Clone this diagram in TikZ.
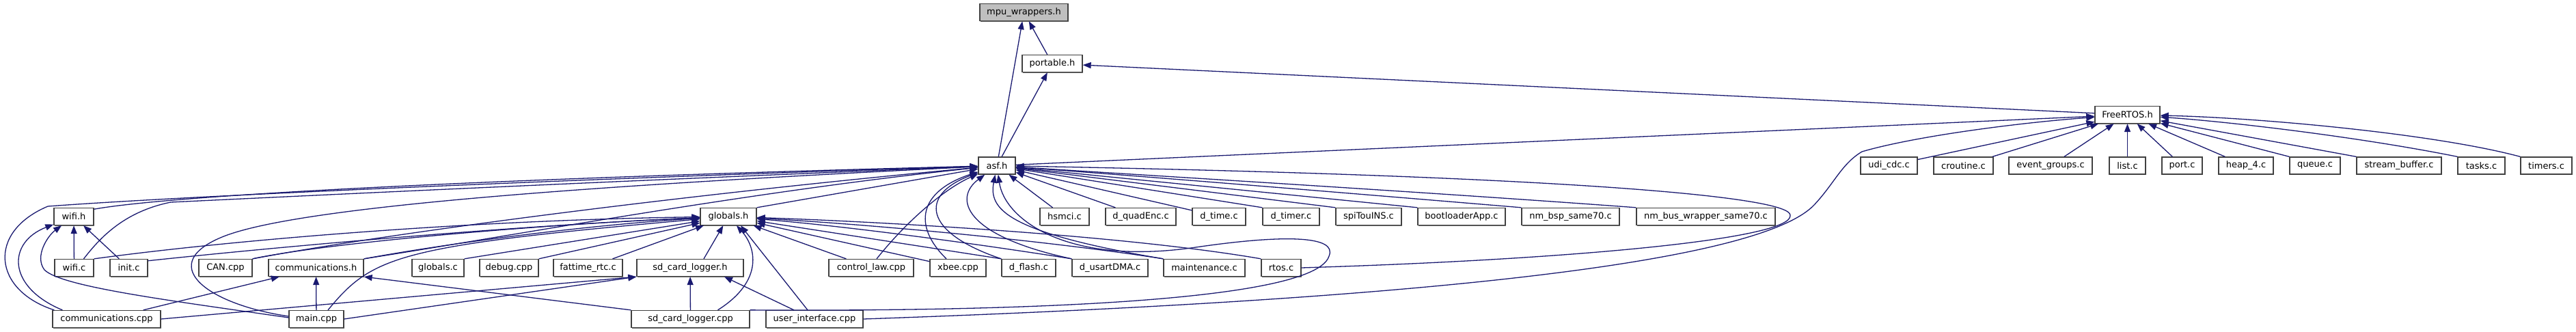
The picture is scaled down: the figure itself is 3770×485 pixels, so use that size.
\documentclass[tikz,border=0pt]{standalone}
\usepackage{fontspec}
\setmainfont{DejaVu Sans}
\usetikzlibrary{arrows.meta,shadows}
\definecolor{edgecol}{HTML}{191970}
\definecolor{rootfill}{HTML}{BFBFBF}
\definecolor{boxline}{HTML}{404040}
\tikzset{
  filebox/.style={draw=boxline, line width=1.3pt, fill=white, minimum height=25pt, inner sep=0pt, font=\fontsize{13}{15}\selectfont, text=black,
    drop shadow={shadow xshift=1.2pt, shadow yshift=-1.2pt, fill=black!60, opacity=1}},
  rootbox/.style={filebox, fill=rootfill},
  depline/.style={draw=edgecol, line width=1.3pt, -{Triangle[length=12pt,width=9pt]}},
}
\begin{document}
\begin{tikzpicture}[x=1pt,y=-1pt]
\fill[white] (0,0) rectangle (3770,485);
\useasboundingbox (0,0) rectangle (3770,485);

% ---------- nodes ----------
\node[rootbox,minimum width=129pt] (mpu) at (1498.5,18) {mpu\_wrappers.h};
\node[filebox,minimum width=88pt] (portable) at (1540,93) {portable.h};
\node[filebox,minimum width=95pt] (freertos) at (3113.5,168) {FreeRTOS.h};
% row 3
\node[filebox,minimum width=54pt] (asf) at (1459,242.5) {asf.h};
\node[filebox,minimum width=83pt] (udicdc) at (2764.5,242.5) {udi\_cdc.c};
\node[filebox,minimum width=87pt] (croutine) at (2873.5,242.5) {croutine.c};
\node[filebox,minimum width=122pt] (eventgroups) at (3001,242.5) {event\_groups.c};
\node[filebox,minimum width=53pt] (listc) at (3113.5,242.5) {list.c};
\node[filebox,minimum width=59pt] (portc) at (3193.5,242.5) {port.c};
\node[filebox,minimum width=80pt] (heap) at (3287,242.5) {heap\_4.c};
\node[filebox,minimum width=74pt] (queue) at (3388,242.5) {queue.c};
\node[filebox,minimum width=124pt] (streambuf) at (3511,242.5) {stream\_buffer.c};
\node[filebox,minimum width=69pt] (tasks) at (3631.5,242.5) {tasks.c};
\node[filebox,minimum width=75pt] (timers) at (3726.5,242.5) {timers.c};
% row 4
\node[filebox,minimum width=58pt] (wifih) at (108,317) {wifi.h};
\node[filebox,minimum width=82pt] (globals) at (1066,317) {globals.h};
\node[filebox,minimum width=72pt] (hsmci) at (1558,317) {hsmci.c};
\node[filebox,minimum width=103pt] (quadenc) at (1669.5,317) {d\_quadEnc.c};
\node[filebox,minimum width=78pt] (dtime) at (1784,317) {d\_time.c};
\node[filebox,minimum width=83pt] (dtimer) at (1889.5,317) {d\_timer.c};
\node[filebox,minimum width=96pt] (spi) at (2003,317) {spiTouINS.c};
\node[filebox,minimum width=128pt] (boot) at (2139,317) {bootloaderApp.c};
\node[filebox,minimum width=143pt] (nmbsp) at (2298.5,317) {nm\_bsp\_same70.c};
\node[filebox,minimum width=203pt] (nmbus) at (2496.5,317) {nm\_bus\_wrapper\_same70.c};
% row 5
\node[filebox,minimum width=57pt] (wific) at (108.5,392) {wifi.c};
\node[filebox,minimum width=55pt] (initc) at (188.5,392) {init.c};
\node[filebox,minimum width=78pt] (can) at (330,392) {CAN.cpp};
\node[filebox,minimum width=139pt] (commh) at (462.5,392) {communications.h};
\node[filebox,minimum width=76pt] (globalsc) at (641,392) {globals.c};
\node[filebox,minimum width=86pt] (debug) at (745,392) {debug.cpp};
\node[filebox,minimum width=101pt] (fattime) at (860.5,392) {fattime\_rtc.c};
\node[filebox,minimum width=156pt] (sdlh) at (1010,392) {sd\_card\_logger.h};
\node[filebox,minimum width=124pt] (ctrl) at (1275,392) {control\_law.cpp};
\node[filebox,minimum width=82pt] (xbee) at (1402,392) {xbee.cpp};
\node[filebox,minimum width=79pt] (dflash) at (1505.5,392) {d\_flash.c};
\node[filebox,minimum width=111pt] (dusart) at (1624.5,392) {d\_usartDMA.c};
\node[filebox,minimum width=119pt] (maint) at (1762.5,392) {maintenance.c};
\node[filebox,minimum width=58pt] (rtos) at (1875,392) {rtos.c};
% row 6
\node[filebox,minimum width=158pt] (commcpp) at (156,467) {communications.cpp};
\node[filebox,minimum width=80pt] (main) at (463,467) {main.cpp};
\node[filebox,minimum width=173pt] (sdcpp) at (1010.5,467) {sd\_card\_logger.cpp};
\node[filebox,minimum width=142pt] (ui) at (1192,467) {user\_interface.cpp};

% ---------- top ----------
\draw[depline] (portable) -- (mpu);
\draw[depline] (asf) -- (mpu);
\draw[depline] (asf) -- (portable);
\draw[depline] (freertos) -- (portable);
\draw[depline] (asf) -- (freertos);

% ---------- FreeRTOS.h ----------
\draw[depline] (udicdc) -- (freertos);
\draw[depline] (croutine) -- (freertos);
\draw[depline] (eventgroups) -- (freertos);
\draw[depline] (listc) -- (freertos);
\draw[depline] (portc) -- (freertos);
\draw[depline] (heap) -- (freertos);
\draw[depline] (queue.north west) -- (freertos);
\draw[depline] (streambuf.north west) -- (freertos);
\draw[depline] (tasks.north west) .. controls (3450,200) and (3260,178) .. (freertos);
\draw[depline] (timers.north west) .. controls (3560,195) and (3300,172) .. (freertos);
\draw[depline] (ui.east) .. controls (1900,445) and (2560,400) .. (2655,300)
  .. controls (2685,268) and (2695,240) .. (2725,222)
  .. controls (2800,200) and (2950,180) .. (freertos);

% ---------- asf.h, right side ----------
\draw[depline] (hsmci) -- (asf);
\draw[depline] (quadenc) -- (asf);
\draw[depline] (dtime) -- (asf);
\draw[depline] (dtimer.north west) -- (asf);
\draw[depline] (spi.north west) -- (asf);
\draw[depline] (boot.north west) -- (asf);
\draw[depline] (nmbsp.north west) .. controls (2000,285) and (1700,260) .. (asf);
\draw[depline] (nmbus.north west) .. controls (2100,282) and (1700,258) .. (asf);
\draw[depline] (rtos.east) .. controls (2300,380) and (2625,350) .. (2620,315)
  .. controls (2620,288) and (2300,258) .. (asf);

% ---------- asf.h, from below ----------
\draw[depline] ([xshift=8pt]ctrl.north) .. controls (1330,320) and (1385,275) .. (asf);
\draw[depline] ([xshift=-17pt]xbee.north) .. controls (1335,330) and (1345,280) .. (asf);
\draw[depline] (dflash.north west) .. controls (1350,340) and (1345,285) .. (asf);
\draw[depline] (dusart.north west) .. controls (1410,345) and (1395,290) .. (asf);
\draw[depline] (maint.north west) .. controls (1470,340) and (1447,305) .. (asf);
\draw[depline] (sdcpp.north east) .. controls (1300,455) and (1920,455) .. (1945,375)
  .. controls (1958,345) and (1880,343) .. (1750,362)
  .. controls (1560,390) and (1470,320) .. (asf);

% ---------- asf.h, from left ----------
\draw[depline] (globals.north east) -- (asf);
\draw[depline] (wifih.20) .. controls (250,286) and (700,262) .. (asf);
\draw[depline] ([xshift=14pt]wific.north) .. controls (145,350) and (180,310) .. (250,296)
  .. controls (500,284) and (900,265) .. (asf);
\draw[depline] ([xshift=3pt]commcpp.north west) .. controls (-10,425) and (-20,340) .. (70,302)
  .. controls (300,285) and (900,260) .. (asf);
\draw[depline] ([yshift=4pt]main.west) .. controls (300,445) and (225,385) .. (330,345)
  .. controls (450,300) and (900,270) .. (asf);
\draw[depline] (can.north east) .. controls (550,345) and (950,290) .. (asf);
\draw[depline] (commh.north east) .. controls (750,345) and (1100,280) .. (asf);

% ---------- globals.h ----------
\draw[depline] (wific.north east) .. controls (350,350) and (700,322) .. (globals);
\draw[depline] (initc.20) .. controls (420,360) and (760,330) .. (globals);
\draw[depline] (can.north east) .. controls (480,355) and (800,328) .. (globals);
\draw[depline] (commh.north east) .. controls (680,352) and (880,328) .. (globals);
\draw[depline] ([xshift=17pt]main.north) .. controls (545,375) and (580,360) .. (globals);
\draw[depline] (globalsc.north east) -- (globals);
\draw[depline] (debug.north east) -- (globals);
\draw[depline] (fattime) -- (globals);
\draw[depline] ([xshift=20pt]sdlh.north) -- (globals);
\draw[depline] ([xshift=40pt]sdcpp.north) .. controls (1120,410) and (1105,360) .. (globals);
\draw[depline] ([xshift=-10pt]ui.north) -- ([xshift=18pt]globals.south);
\draw[depline] (ctrl) -- (globals);
\draw[depline] (xbee) -- (globals);
\draw[depline] (dflash.north west) -- (globals);
\draw[depline] (dusart.north west) .. controls (1450,360) and (1250,332) .. (globals);
\draw[depline] (maint.north west) .. controls (1550,355) and (1300,330) .. (globals);
\draw[depline] (rtos.north west) .. controls (1650,345) and (1300,325) .. (globals);

% ---------- wifi.h ----------
\draw[depline] (wific) -- (wifih);
\draw[depline] (initc) -- (wifih);
\draw[depline] ([xshift=15pt]commcpp.north west) .. controls (10,420) and (10,355) .. (wifih);
\draw[depline] ([yshift=2pt]main.west) .. controls (250,440) and (90,420) .. (65,395)
  .. controls (50,375) and (70,345) .. (wifih);

% ---------- communications.h / sd_card_logger.h ----------
\draw[depline] (commcpp) -- (commh);
\draw[depline] (main) -- (commh);
\draw[depline] (sdcpp.north west) -- (commh.south east);
\draw[depline] (commcpp.east) -- (sdlh.south west);
\draw[depline] (main.east) -- (sdlh.south west);
\draw[depline] (sdcpp) -- (sdlh);
\draw[depline] ([xshift=-30pt]ui.north) -- ([xshift=50pt]sdlh.south);
\end{tikzpicture}
\end{document}
